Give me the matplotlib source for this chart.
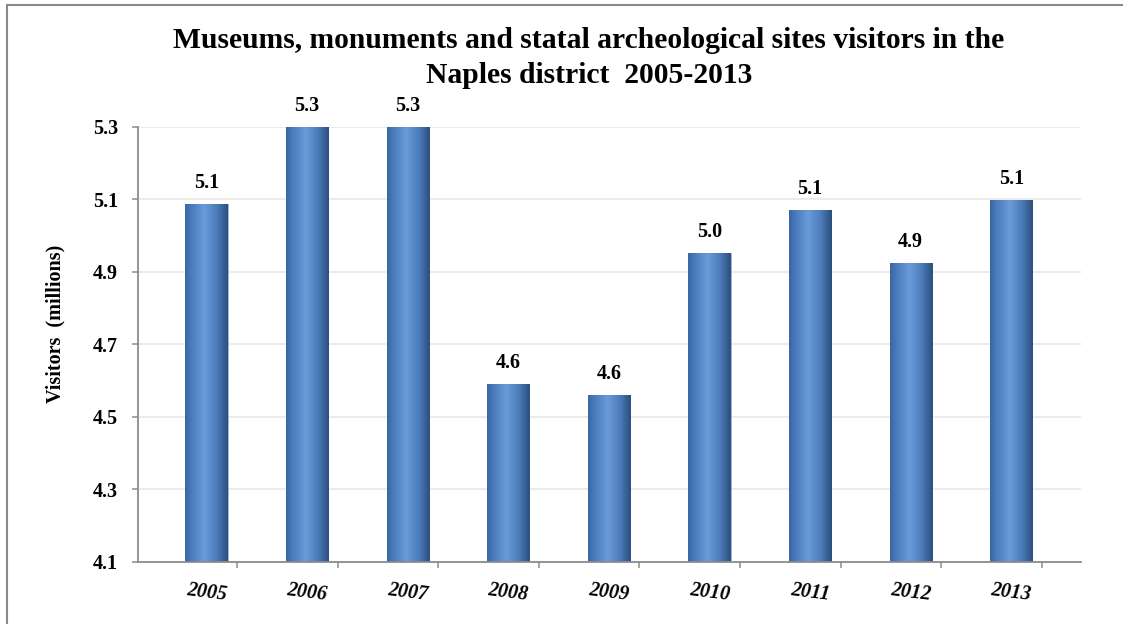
import numpy as np
import matplotlib
matplotlib.use("Agg")
import matplotlib.pyplot as plt
from matplotlib.colors import LinearSegmentedColormap
from matplotlib.lines import Line2D

# Data
years = ["2005", "2006", "2007", "2008", "2009", "2010", "2011", "2012", "2013"]
visitors = [5.087, 5.30, 5.30, 4.592, 4.561, 4.952, 5.070, 4.925, 5.098]

title = ("Museums, monuments and statal archeological sites visitors in the\n"
         "Naples district  2005-2013")
ylabel = "Visitors  (millions)"
y_ticks = [4.1, 4.3, 4.5, 4.7, 4.9, 5.1, 5.3]

plt.rcParams["font.family"] = ["Liberation Serif", "DejaVu Serif"]
plt.rcParams["font.weight"] = "bold"

axis_gray = "#8c8c8c"

fig = plt.figure(figsize=(11.23, 6.24), dpi=100)
ax = fig.add_axes([0.1229, 0.0994, 0.8397, 0.6971])

x = np.arange(len(years))
bars = ax.bar(x, visitors, width=0.42, bottom=0, color="#4a7cc0",
              edgecolor="#9db5d6", linewidth=0.6, zorder=2)

# horizontal cylinder-like gradient on each bar
grad_cmap = LinearSegmentedColormap.from_list(
    "bar_grad",
    [(0.0, "#3a66a0"), (0.12, "#4677b8"), (0.45, "#6b9bd8"),
     (0.75, "#4b7bb9"), (1.0, "#2c4e7c")])
gradient = np.linspace(0, 1, 256).reshape(1, -1)
for b in bars:
    x0, w, h = b.get_x(), b.get_width(), b.get_height()
    im = ax.imshow(gradient, cmap=grad_cmap, aspect="auto",
                   extent=[x0, x0 + w, 4.1, h], zorder=2.5,
                   interpolation="bicubic")
    im.set_clip_path(b)

ax.set_xlim(-0.681, 8.693)
ax.set_ylim(4.1, 5.3)

# value labels
for xi, v in zip(x, visitors):
    ax.annotate(f"{v:.1f}", (xi, v), xytext=(0, 11.5), textcoords="offset points",
                ha="center", va="baseline", fontsize=14.5, fontweight="bold")

# axes styling
for s in ["top", "right"]:
    ax.spines[s].set_visible(False)
for s in ["left", "bottom"]:
    ax.spines[s].set_color(axis_gray)
    ax.spines[s].set_linewidth(1.3)
    ax.spines[s].set_zorder(3)

ax.set_yticks(y_ticks)
ax.set_yticklabels([f"{t:.1f}" for t in y_ticks])
ax.tick_params(axis="y", length=4.3, width=1.1, color=axis_gray, pad=10,
               labelsize=14.5)
ax.yaxis.grid(True, color="#ebebeb", linewidth=1.5, zorder=0)
ax.set_axisbelow(True)

ax.set_xticks(x)
ax.set_xticklabels(years, rotation=-7, fontstyle="italic", fontsize=14.5,
                   rotation_mode="anchor")
ax.set_xticks(x + 0.303, minor=True)
ax.tick_params(axis="x", which="major", length=0, pad=22)
ax.tick_params(axis="x", which="minor", length=4.3, width=1.1, color=axis_gray)
for lbl in ax.get_xticklabels():
    lbl.set_verticalalignment("center")

ax.set_ylabel(ylabel, fontsize=14.5, fontweight="bold")
ax.yaxis.set_label_coords(-0.0764, 0.547)

fig.text(0.5245, 1 - 83 / 624, title, ha="center", va="baseline",
         fontsize=21.3, fontweight="bold", linespacing=1.4)

# frame lines on the left and top of the picture
fx = 7 / 1123
fy = 1 - 5 / 624
fig.add_artist(Line2D([fx, fx], [0, fy], transform=fig.transFigure,
                      color="#8a8a8a", linewidth=1.5))
fig.add_artist(Line2D([fx, 1], [fy, fy], transform=fig.transFigure,
                      color="#8a8a8a", linewidth=1.5))

fig.savefig("out.png", dpi=100)
